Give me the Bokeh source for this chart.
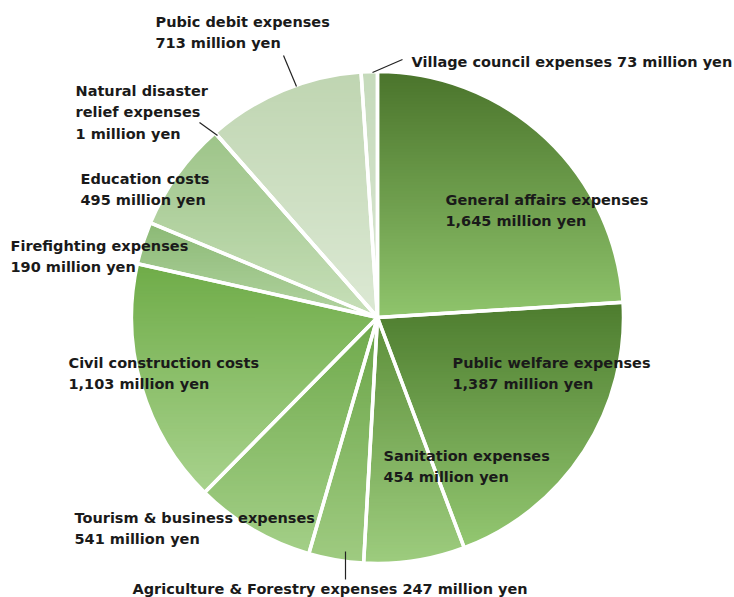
import numpy as np
from bokeh.plotting import figure
from bokeh.models import Range1d
from bokeh.core.properties import value
from bokeh.embed import file_html
from bokeh.resources import INLINE

# ---------------- data ----------------
categories = [
    "General affairs expenses",
    "Public welfare expenses",
    "Sanitation expenses",
    "Agriculture & Forestry expenses",
    "Tourism & business expenses",
    "Civil construction costs",
    "Firefighting expenses",
    "Education costs",
    "Natural disaster relief expenses",
    "Pubic debit expenses",
    "Village council expenses",
]
amounts = [1645, 1387, 454, 247, 541, 1103, 190, 495, 1, 713, 73]

# gradient (top colour, bottom colour) per slice
top_colors = ["#4a742b", "#4d7c2e", "#5d8f3a", "#6aa447", "#6fa94b", "#6fac48",
              "#8bb975", "#9dc488", "#c0d8b2", "#bfd5b1", "#c5dabb"]
bottom_colors = ["#8fc46c", "#93c771", "#9dcc7e", "#9fcb81", "#a3cf87", "#a8d28d",
                 "#b2d3a0", "#c7dfb9", "#d3e4c9", "#dce9d4", "#dae7d2"]

label_lines = {
    0: ["General affairs expenses", "1,645  million yen"],
    1: ["Public welfare expenses", "1,387 million yen"],
    2: ["Sanitation expenses", "454 million yen"],
    3: ["Agriculture & Forestry expenses 247 million yen"],
    4: ["Tourism & business expenses", "541 million yen"],
    5: ["Civil construction costs", "1,103 million yen"],
    6: ["Firefighting expenses", "190 million yen"],
    7: ["Education costs", "495 million yen"],
    8: ["Natural disaster", "relief expenses", "1 million yen"],
    9: ["Pubic debit expenses", "713 million yen"],
    10: ["Village council expenses 73 million yen"],
}

# ---------------- layout ----------------
W, H = 734, 597
IMG_H = 597


def Y(img_y):
    return IMG_H - img_y


label_pos = {  # (x, y of first line centre) in image pixels
    0: (445, 199), 1: (452, 362), 2: (383, 455), 3: (132, 588),
    4: (74, 517), 5: (68, 362), 6: (10, 245), 7: (80, 178),
    8: (75, 90), 9: (155, 21), 10: (411, 61),
}
line_gap = 21.5
leaders = [((283, 55), (296, 86)), ((199, 122), (217, 135)),
           ((402, 59), (372, 72)), ((345, 551), (345, 579))]

cx, cy, R = 377, Y(317), 246

p = figure(width=W, height=H, x_range=Range1d(0, W), y_range=Range1d(IMG_H - H, IMG_H),
           output_backend="svg", toolbar_location=None, min_border=0)
p.axis.visible = False
p.grid.visible = False
p.outline_line_color = None
p.background_fill_color = "white"

total = float(sum(amounts))
cum = np.concatenate([[0], np.cumsum(amounts)]) / total
start_deg = 90 - 360 * cum[:-1]
end_deg = 90 - 360 * cum[1:]


def hex2rgb(h):
    h = h.lstrip("#")
    return np.array([int(h[i:i + 2], 16) for i in (0, 2, 4)], dtype=float)


def rgb2hex(c):
    return "#%02x%02x%02x" % tuple(int(round(v)) for v in c)


def clip(poly, y0, keep_above):
    out = []
    n = len(poly)
    for i in range(n):
        a, b = poly[i], poly[(i + 1) % n]
        ina = (a[1] >= y0) if keep_above else (a[1] <= y0)
        inb = (b[1] >= y0) if keep_above else (b[1] <= y0)
        if ina:
            out.append(a)
        if ina != inb:
            t = (y0 - a[1]) / (b[1] - a[1])
            out.append((a[0] + t * (b[0] - a[0]), y0))
    return out


xs, ys, cols = [], [], []
for i in range(len(amounts)):
    a0, a1 = np.radians(start_deg[i]), np.radians(end_deg[i])
    n = max(2, int(abs(np.degrees(a0 - a1)) * 2))
    angs = np.linspace(a0, a1, n)
    poly = [(cx, cy)] + [(cx + R * np.cos(a), cy + R * np.sin(a)) for a in angs]
    ytop = max(q[1] for q in poly)
    ybot = min(q[1] for q in poly)
    span = ytop - ybot
    nb = max(1, int(span / 3))
    h = span / nb
    c0, c1 = hex2rgb(top_colors[i]), hex2rgb(bottom_colors[i])
    for k in range(nb):
        yhi = ytop - k * h + 0.6
        ylo = ytop - (k + 1) * h - 0.6
        pc = clip(clip(poly, ylo, True), yhi, False)
        if len(pc) < 3:
            continue
        t = (k + 0.5) / nb
        xs.append([q[0] for q in pc])
        ys.append([q[1] for q in pc])
        cols.append(rgb2hex(c0 + (c1 - c0) * t))

p.patches(xs, ys, fill_color=cols, line_color=None)

# white separators
p.wedge(x=cx, y=cy, radius=R, start_angle=list(start_deg), end_angle=list(end_deg),
        start_angle_units="deg", end_angle_units="deg", direction="clock",
        fill_color=None, line_color="white", line_width=3.5)

# leader lines
p.segment(x0=[a[0] for a, b in leaders], y0=[Y(a[1]) for a, b in leaders],
          x1=[b[0] for a, b in leaders], y1=[Y(b[1]) for a, b in leaders],
          line_color="#222222", line_width=1.2)

tx, ty, tt = [], [], []
for i, lines in label_lines.items():
    x0, y0 = label_pos[i]
    for j, s in enumerate(lines):
        tx.append(x0)
        ty.append(Y(y0 + j * line_gap))
        tt.append(s)

p.text(x=tx, y=ty, text=tt, text_font=value("DejaVu Sans"), text_font_size="14.5px",
       text_font_style="bold", text_color="#1a1a1a", text_align="left", text_baseline="middle")

open("out.html", "w").write(file_html(p, INLINE))
